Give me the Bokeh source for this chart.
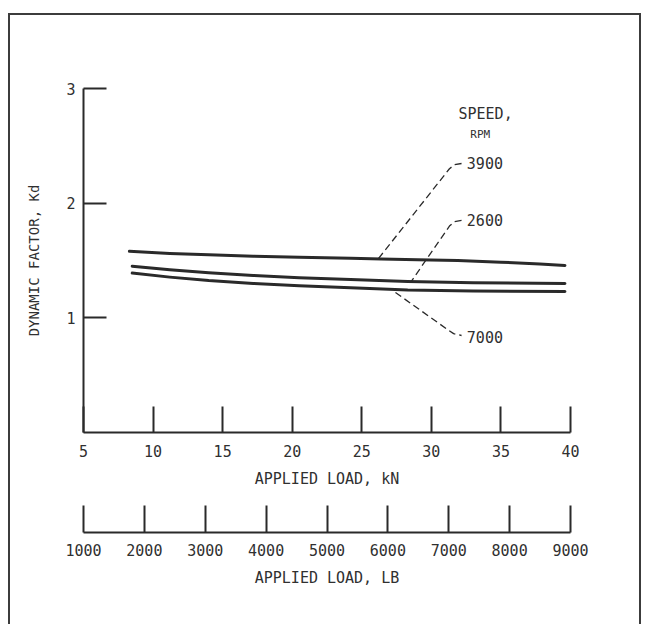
from bokeh.plotting import figure
from bokeh.models import Range1d, FixedTicker
from bokeh.layouts import column
from bokeh.embed import file_html
from bokeh.resources import INLINE
from bokeh.core.properties import value

# ---------------- data ----------------
kn_ticks = [5, 10, 15, 20, 25, 30, 35, 40]
kd_ticks = [1, 2, 3]
lb_ticks = [1000, 2000, 3000, 4000, 5000, 6000, 7000, 8000, 9000]

load_kn_3900 = [8.3, 11.2, 14.0, 17.2, 20.5, 24.2, 26.4, 29.0, 31.9, 35.0, 37.8, 39.6]
kd_3900 = [1.58, 1.562, 1.55, 1.538, 1.528, 1.52, 1.513, 1.507, 1.50, 1.485, 1.47, 1.457]
load_kn_2600 = [8.5, 11.2, 14.0, 17.2, 20.5, 24.2, 28.3, 33.0, 39.6]
kd_2600 = [1.45, 1.42, 1.393, 1.37, 1.35, 1.335, 1.317, 1.305, 1.30]
load_kn_7000 = [8.5, 11.2, 14.0, 17.2, 20.5, 24.2, 28.3, 33.0, 39.6]
kd_7000 = [1.39, 1.355, 1.325, 1.30, 1.28, 1.262, 1.242, 1.233, 1.23]

speed_labels = ["3900", "2600", "7000"]
speed_label_x = [32.55, 32.55, 32.55]
speed_label_y = [2.346, 1.857, 0.837]
leader_x = [[32.17, 31.66, 31.3, 26.20], [32.17, 31.66, 31.3, 28.50], [27.42, 31.2, 31.6, 32.17]]
leader_y = [[2.346, 2.335, 2.300, 1.517], [1.849, 1.838, 1.800, 1.308], [1.221, 0.895, 0.862, 0.846]]

title_x = [31.95, 32.8]
title_y = [2.78, 2.60]
title_text = ["SPEED,", "RPM"]

# ---------------- style ----------------
FONT = "DejaVu Sans Mono"
INK = "#2a2a2a"
TXT = "#303030"


def style_axis(ax, size="15px"):
    ax.axis_line_color = INK
    ax.axis_line_width = 2
    ax.major_tick_line_color = INK
    ax.major_tick_line_width = 2
    ax.major_tick_out = 0
    ax.minor_tick_line_color = None
    ax.major_label_text_font = FONT
    ax.major_label_text_font_size = size
    ax.major_label_text_color = TXT
    ax.axis_label_text_font = FONT
    ax.axis_label_text_font_size = size
    ax.axis_label_text_font_style = "normal"
    ax.axis_label_text_color = TXT


p1 = figure(
    frame_width=487, frame_height=344,
    x_range=Range1d(5, 40), y_range=Range1d(0, 3),
    min_border_left=73, min_border_right=69, min_border_top=73, min_border_bottom=63,
    output_backend="svg", toolbar_location=None,
    x_axis_label="APPLIED LOAD, kN", y_axis_label="DYNAMIC FACTOR, Kd",
)
p1.grid.visible = False
p1.outline_line_color = None
p1.background_fill_color = "white"
p1.border_fill_color = "white"

style_axis(p1.xaxis[0])
style_axis(p1.yaxis[0], "14px")
p1.xaxis.ticker = FixedTicker(ticks=kn_ticks)
p1.xaxis.major_tick_in = 26
p1.xaxis.major_label_standoff = 12
p1.xaxis.axis_label_standoff = 10
p1.yaxis.ticker = FixedTicker(ticks=kd_ticks)
p1.yaxis.major_label_text_font_size = "15px"
p1.yaxis.major_tick_in = 23
p1.yaxis.major_label_standoff = 8
p1.yaxis.axis_label_standoff = 21

for xs, ys in [(load_kn_3900, kd_3900), (load_kn_2600, kd_2600), (load_kn_7000, kd_7000)]:
    p1.line(xs, ys, line_color=INK, line_width=3, line_join="round", line_cap="round")

for xs, ys in zip(leader_x, leader_y):
    p1.line(xs, ys, line_color=INK, line_width=1.3, line_dash="7 4")

p1.text(x=speed_label_x, y=speed_label_y, text=speed_labels,
        text_font=value(FONT), text_font_size="15px", text_color=TXT,
        text_align="left", text_baseline="middle")
p1.text(x=title_x[:1], y=title_y[:1], text=title_text[:1],
        text_font=value(FONT), text_font_size="15px", text_color=TXT,
        text_align="left", text_baseline="middle")
p1.text(x=title_x[1:], y=title_y[1:], text=title_text[1:],
        text_font=value(FONT), text_font_size="11px", text_color=TXT,
        text_align="left", text_baseline="middle")

p2 = figure(
    frame_width=487, frame_height=27,
    x_range=Range1d(1000, 9000), y_range=Range1d(0, 1),
    min_border_left=73, min_border_right=69, min_border_top=10, min_border_bottom=92,
    output_backend="svg", toolbar_location=None,
    x_axis_label="APPLIED LOAD, LB",
)
p2.grid.visible = False
p2.outline_line_color = None
p2.yaxis.visible = False
p2.background_fill_color = "white"
p2.border_fill_color = "white"
style_axis(p2.xaxis[0])
p2.xaxis.ticker = FixedTicker(ticks=lb_ticks)
p2.xaxis.major_tick_in = 27
p2.xaxis.major_label_standoff = 11
p2.xaxis.axis_label_standoff = 10

layout = column(
    p1, p2, spacing=0, margin=(13, 0, 0, 8),
    styles={"border-top": "2px solid #3c3c3c",
            "border-left": "2px solid #3c3c3c",
            "border-right": "2px solid #3c3c3c",
            "background": "white"},
)

open("out.html", "w").write(file_html(layout, INLINE))
